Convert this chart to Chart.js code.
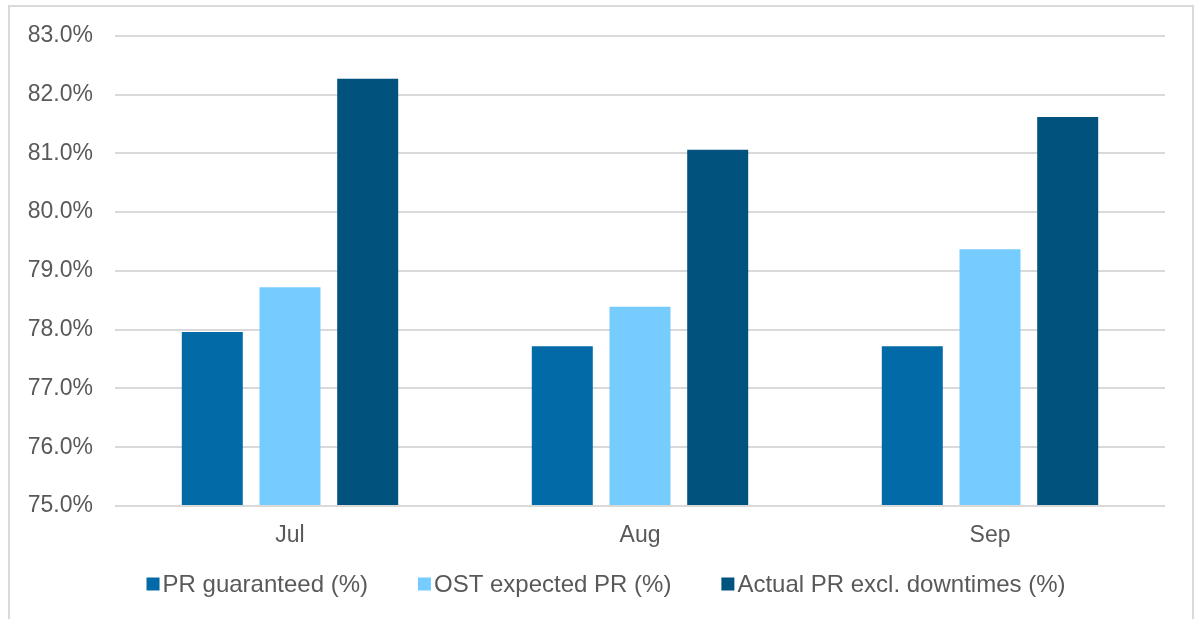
<!DOCTYPE html>
<html>
<head>
<meta charset="utf-8">
<script src="https://cdn.jsdelivr.net/npm/chart.js@4/dist/chart.umd.min.js"></script>
<style>
  html, body { margin: 0; padding: 0; background: #fff; overflow: hidden; }
  #frame { position: absolute; left: 8px; top: 5px; width: 1186px; height: 700px;
           box-sizing: border-box; border: 2px solid #d9d9d9; }
  #wrap { position: absolute; left: 0; top: 0; width: 1194px; height: 619px; }
</style>
</head>
<body>
<div id="frame"></div>
<div id="wrap"><canvas id="c" width="1194" height="619"></canvas></div>
<script>
// Monthly performance ratio figures
const months = ['Jul', 'Aug', 'Sep'];
const prGuaranteed = [77.96, 77.72, 77.72];
const ostExpected = [78.72, 78.39, 79.37];
const actualExclDowntimes = [82.27, 81.06, 81.62];
const seriesNames = ['PR guaranteed (%)', 'OST expected PR (%)', 'Actual PR excl. downtimes (%)'];
const seriesColors = ['#026aa7', '#77ccff', '#02527e'];
const yTicks = [75, 76, 77, 78, 79, 80, 81, 82, 83];

const FONT = 'Liberation Sans, Arial, sans-serif';
const TEXT = '#595959';

// Legend drawn under the axis: small square, tight gap, text
const bottomLegend = {
  id: 'bottomLegend',
  afterDraw(chart) {
    const ctx = chart.ctx;
    ctx.save();
    ctx.font = '24px ' + FONT;
    ctx.textBaseline = 'middle';
    const box = 13, gap = 3, itemGap = 50;
    const items = chart.data.datasets.map(ds => ({
      label: ds.label, color: ds.backgroundColor,
      w: box + gap + ctx.measureText(ds.label).width
    }));
    const total = items.reduce((s, it) => s + it.w, 0) + itemGap * (items.length - 1);
    let x = 606 - total / 2;
    const y = 584;
    items.forEach(it => {
      ctx.fillStyle = it.color;
      ctx.fillRect(x, y - box / 2, box, box);
      ctx.fillStyle = TEXT;
      ctx.fillText(it.label, x + box + gap, y + 1);
      x += it.w + itemGap;
    });
    ctx.restore();
  }
};

new Chart(document.getElementById('c'), {
  type: 'bar',
  data: {
    labels: months,
    datasets: [
      { label: seriesNames[0], data: prGuaranteed, backgroundColor: seriesColors[0] },
      { label: seriesNames[1], data: ostExpected, backgroundColor: seriesColors[1] },
      { label: seriesNames[2], data: actualExclDowntimes, backgroundColor: seriesColors[2] }
    ]
  },
  options: {
    responsive: false,
    animation: false,
    events: [],
    layout: { padding: { top: 25, right: 29, bottom: 65, left: 0 } },
    datasets: { bar: { categoryPercentage: 0.666, barPercentage: 0.785, base: 75 } },
    plugins: { legend: { display: false }, tooltip: { enabled: false } },
    scales: {
      x: {
        grid: { display: false, drawTicks: false },
        border: { display: false },
        ticks: { color: TEXT, font: { family: FONT, size: 23 }, padding: 16 },
        afterFit(s) { s.height = 48; }
      },
      y: {
        min: yTicks[0],
        max: yTicks[yTicks.length - 1],
        afterBuildTicks(s) { s.ticks = yTicks.map(v => ({ value: v })); },
        grid: { color: '#d9d9d9', lineWidth: 2, drawTicks: false },
        border: { display: false },
        ticks: {
          color: TEXT, font: { family: FONT, size: 23 }, padding: 22,
          callback: v => Number(v).toFixed(1) + '%'
        },
        afterFit(s) { s.width = 115; }
      }
    }
  },
  plugins: [bottomLegend]
});
</script>
</body>
</html>
